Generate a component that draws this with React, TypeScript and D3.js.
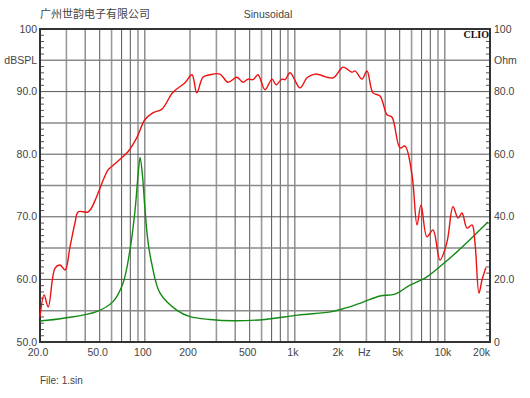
import React from 'react';
import * as d3 from 'd3';

const splFreq = [20, 21.3, 22.7, 25.2, 27.2, 29.4, 31.7, 34.2, 36, 42, 47.7, 51.8, 56.8, 58.6, 68.3, 77.2, 88.6, 100, 113, 130, 154, 185, 206, 222, 244, 272, 317, 358, 411, 451, 487, 526, 568, 632, 704, 749, 821, 860, 929, 1083, 1205, 1362, 1796, 2094, 2405, 2518, 2803, 3027, 3319, 3697, 4117, 4445, 5024, 5425, 6040, 6525, 6935, 7604, 8338, 9283, 10338, 11335, 12243, 13010, 14052, 15170, 15887, 16887, 17682, 18795];
const splDb = [54.0, 57.5, 55.6, 61.8, 62.3, 61.5, 65.2, 69.0, 70.8, 70.8, 73.2, 75.4, 77.5, 77.8, 79.2, 80.4, 82.7, 85.5, 86.6, 87.2, 89.9, 91.4, 92.7, 89.8, 92.3, 92.7, 92.8, 91.5, 92.3, 91.5, 92.0, 91.9, 92.7, 90.3, 92.0, 91.1, 92.0, 91.9, 93.0, 90.6, 92.2, 92.8, 92.2, 93.9, 93.1, 93.3, 92.0, 93.3, 89.8, 89.3, 86.3, 85.9, 81.0, 81.3, 76.7, 68.7, 71.9, 66.8, 67.9, 63.1, 66.0, 71.6, 69.8, 70.6, 68.2, 68.7, 65.8, 57.8, 59.9, 61.9];

const impFreq = [20, 28.6, 47.7, 61.3, 71.5, 79.6, 86, 90, 93, 96.5, 100, 105, 111, 126, 163, 200, 272, 387, 632, 1050, 1768, 2159, 2803, 3697, 4651, 5856, 7373, 9283, 12051, 15396, 19387];
const impOhm = [6.7, 7.6, 9.7, 12.9, 18.8, 29.4, 42, 53, 59, 53, 43, 32, 25.2, 15.7, 10.2, 8.1, 7.2, 6.8, 7.2, 8.6, 9.7, 10.8, 12.6, 14.7, 15.3, 18.2, 20.4, 24.1, 28.8, 33.6, 38.3];

const gridFreqs = [30, 40, 50, 60, 70, 80, 90, 100, 200, 300, 400, 500, 600, 700, 800, 900, 1000, 2000, 3000, 4000, 5000, 6000, 7000, 8000, 9000, 10000];
const xTicks = [20, 50, 100, 200, 500, 1000, 2000, 3000, 5000, 10000, 20000];
const xTickLabels = ['20.0', '50.0', '100', '200', '500', '1k', '2k', 'Hz', '5k', '10k', '20k'];
const dbGrid = [55, 60, 65, 70, 75, 80, 85, 90, 95];
const dbTicks = [100, 95, 90, 80, 70, 60, 50];
const dbTickLabels = ['100', 'dBSPL', '90.0', '80.0', '70.0', '60.0', '50.0'];
const ohmTicks = [100, 90, 80, 60, 40, 20, 0];
const ohmTickLabels = ['100', 'Ohm', '80.0', '60.0', '40.0', '20.0', '0'];

const W = 530, H = 398;
const L = 40, R = 490, T = 29, B = 342;

export default function App() {
  const x = d3.scaleLog().domain([20, 20000]).range([L, R]);
  const y = d3.scaleLinear().domain([50, 100]).range([B, T]);
  const yOhm = d3.scaleLinear().domain([0, 100]).range([B, T]);

  const splLine = d3.line<number>()
    .x((_, i) => x(splFreq[i]))
    .y((d) => y(d))
    .curve(d3.curveCatmullRom.alpha(0.5));
  const impLine = d3.line<number>()
    .x((_, i) => x(impFreq[i]))
    .y((d) => yOhm(d))
    .curve(d3.curveCatmullRom.alpha(0.5));

  const minorDb = d3.range(51, 100).filter((v) => v % 5 !== 0);
  const minorOhm = d3.range(2, 100, 2).filter((v) => v % 10 !== 0);

  const font = 'Arial, "Liberation Sans", sans-serif';

  return (
    <svg width={W} height={H} style={{ position: 'absolute', left: 0, top: 0, background: '#fff' }}>
      <text x={40} y={18} fontSize={11} fill="#444" fontFamily='"Noto Sans CJK SC", sans-serif'>广州世韵电子有限公司</text>
      <text x={268} y={18} fontSize={10.5} fill="#444" fontFamily={font} textAnchor="middle">Sinusoidal</text>

      {gridFreqs.map((f, i) => (
        <line key={'v' + f} x1={x(f)} x2={x(f)} y1={T} y2={B}
          stroke={i % 3 === 0 ? '#9a9a9a' : '#555'} strokeWidth={i % 3 === 0 ? 1.6 : 1} />
      ))}
      {dbGrid.map((v, i) => (
        <line key={'h' + v} x1={L} x2={R} y1={y(v)} y2={y(v)}
          stroke={i % 2 === 0 ? '#8a8a8a' : '#555'} strokeWidth={i % 2 === 0 ? 1.5 : 1} />
      ))}

      {minorDb.map((v) => (
        <line key={'ml' + v} x1={L} x2={L + 4} y1={y(v)} y2={y(v)} stroke="#555" strokeWidth={1} />
      ))}
      {minorOhm.map((v) => (
        <line key={'mr' + v} x1={R - 4} x2={R} y1={yOhm(v)} y2={yOhm(v)} stroke="#555" strokeWidth={1} />
      ))}

      <rect x={L} y={T} width={R - L} height={B - T} fill="none" stroke="#333" strokeWidth={2} />

      <path d={impLine(impOhm) || ''} fill="none" stroke="#138a13" strokeWidth={1.4} />
      <path d={splLine(splDb) || ''} fill="none" stroke="#ee1111" strokeWidth={1.4} />

      <rect x={466} y={30} width={23} height={9} fill="#fff" />
      <text x={489} y={38} fontSize={10} fontWeight="bold" fill="#111" fontFamily='"Liberation Serif", "DejaVu Serif", serif' textAnchor="end">CLIO</text>

      {dbTicks.map((v, i) => (
        <text key={'ld' + v} x={37} y={y(v)} dy="0.35em" fontSize={10.5} fill="#444" fontFamily={font} textAnchor="end">{dbTickLabels[i]}</text>
      ))}
      {ohmTicks.map((v, i) => (
        <text key={'ro' + v} x={494} y={yOhm(v)} dy="0.35em" fontSize={10.5} fill="#444" fontFamily={font} textAnchor="start">{ohmTickLabels[i]}</text>
      ))}
      {xTicks.map((f, i) => {
        const last = i === xTicks.length - 1;
        return (
          <text key={'xt' + f} x={last ? x(f) : x(f) - 2} y={356} fontSize={10.5} fill="#444" fontFamily={font}
            textAnchor={last ? 'end' : 'middle'}>{xTickLabels[i]}</text>
        );
      })}

      <text x={40} y={384} fontSize={10} fill="#444" fontFamily={font}>File: 1.sin</text>
    </svg>
  );
}
